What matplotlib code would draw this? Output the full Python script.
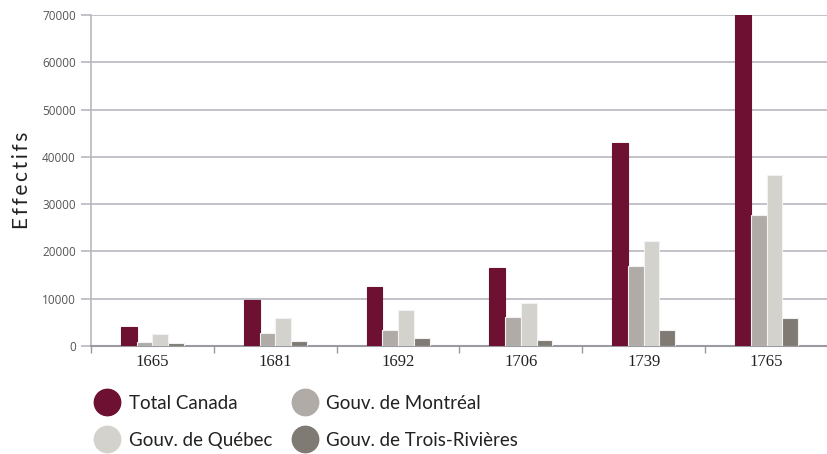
import matplotlib
matplotlib.use("Agg")
import matplotlib.pyplot as plt
from matplotlib.lines import Line2D
import numpy as np

years = ["1665", "1681", "1692", "1706", "1739", "1765"]
total_canada = [4000, 9800, 12500, 16500, 43000, 70000]
montreal = [800, 2700, 3400, 6100, 17000, 27600]
quebec = [2500, 5900, 7600, 9000, 22300, 36100]
trois_rivieres = [550, 1100, 1700, 1300, 3400, 5900]

series = [
    ("Total Canada", total_canada, "#6d1032"),
    ("Gouv. de Montréal", montreal, "#b0aba7"),
    ("Gouv. de Québec", quebec, "#d3d2cd"),
    ("Gouv. de Trois-Rivières", trois_rivieres, "#7f7a74"),
]

fig = plt.figure(figsize=(8.28, 4.54), dpi=100)
ax = fig.add_axes([91 / 828, 1 - 346 / 454, 1 - 91 / 828, (346 - 15) / 454])

x = np.arange(len(years))
w = 0.128
offsets = [-1.5 * w, -0.5 * w, 0.5 * w, 1.5 * w]
for (name, vals, col), off in zip(series, offsets):
    ax.bar(x + off, vals, width=w, color=col,
           edgecolor="#f2f2f2" if col != "#6d1032" else col,
           linewidth=0.8, zorder=3)

ax.set_ylim(0, 70000)
ax.set_xlim(-0.5, 5.5 - 7 / 124)
ax.set_yticks(range(0, 70001, 10000))
ax.yaxis.grid(True, color="#b7b7bf", linewidth=1.2, zorder=0)
ax.set_axisbelow(True)

ax.set_xticks(x)
ax.set_xticklabels(years, family="Liberation Serif", fontsize=12, color="#222222")
ax.tick_params(axis="x", which="major", length=0, pad=6)
ax.set_xticks(np.arange(-0.5, 6, 1), minor=True)
ax.tick_params(axis="x", which="minor", length=5, color="#9a9aa2", width=1)
ax.tick_params(axis="y", length=7, color="#b7b7bf", width=1.2, pad=4,
               labelsize=8.5, labelcolor="#555555")
for lab in ax.get_yticklabels():
    lab.set_family("Open Sans")

for s in ["top", "right"]:
    ax.spines[s].set_visible(False)
ax.spines["left"].set_color("#b7b7bf")
ax.spines["left"].set_linewidth(1.2)
ax.spines["bottom"].set_color("#9a9aa2")
ax.spines["bottom"].set_linewidth(1.5)

ax.set_ylabel("\u2009".join("Effectifs"), family=["Lato", "DejaVu Sans"],
              fontsize=15, color="#222222", labelpad=7)

handles = [Line2D([], [], marker="o", linestyle="none", markersize=19,
                  markerfacecolor=col, markeredgecolor=col) for _, _, col in series]
labels = [name for name, _, _ in series]
order = [0, 2, 1, 3]
leg = fig.legend([handles[i] for i in order], [labels[i] for i in order],
                 ncol=2, loc="upper left", bbox_to_anchor=(80 / 828, 1 - 378 / 454),
                 frameon=False, prop={"family": "Lato", "size": 13.5},
                 handlelength=1.1, handletextpad=0.6, columnspacing=1.2,
                 labelspacing=1.05)
for t in leg.get_texts():
    t.set_color("#222222")

fig.savefig("out.png", dpi=100)
